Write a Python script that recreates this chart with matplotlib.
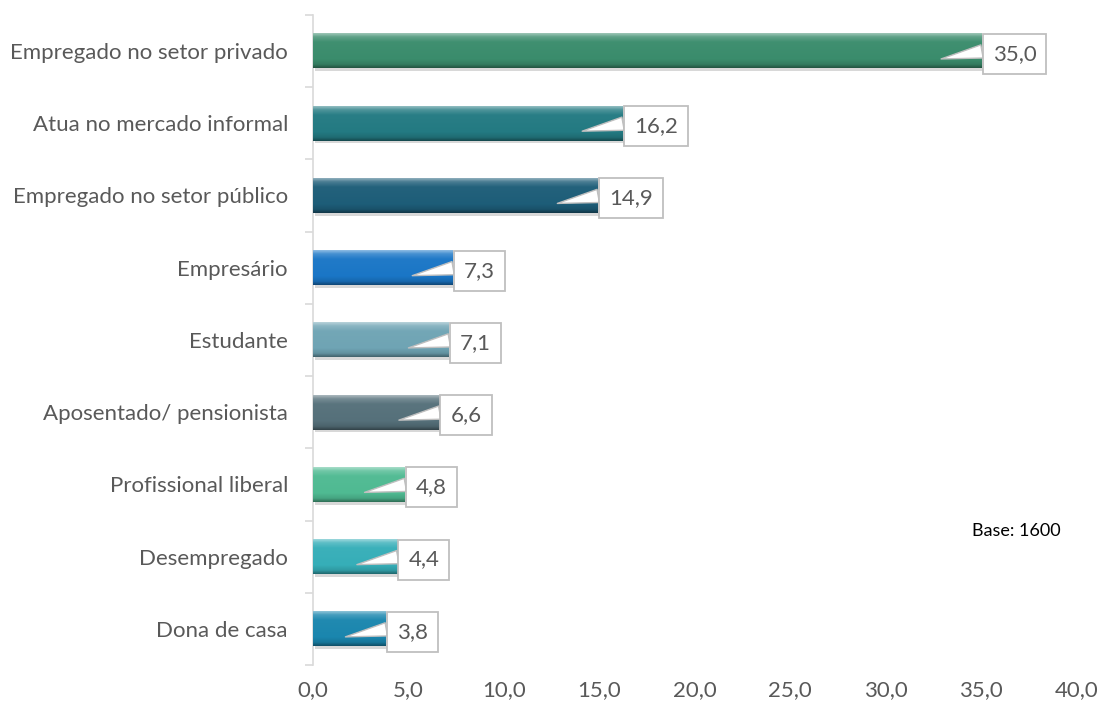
import matplotlib.pyplot as plt
import matplotlib.colors as mcolors
import numpy as np

plt.rcParams['font.family'] = ['Lato', 'DejaVu Sans']

categories = ['Empregado no setor privado', 'Atua no mercado informal', 'Empregado no setor público',
              'Empresário', 'Estudante', 'Aposentado/ pensionista', 'Profissional liberal',
              'Desempregado', 'Dona de casa']
values = [35.0, 16.2, 14.9, 7.3, 7.1, 6.6, 4.8, 4.4, 3.8]
bar_colors = ['#3a8c6c', '#237a82', '#1d5d78', '#1a76c6', '#6fa4b4', '#55707a',
              '#4fba92', '#36aeb8', '#1a86ae']
x_ticks = [0, 5, 10, 15, 20, 25, 30, 35, 40]
base_note = 'Base: 1600'

text_gray = '#595959'


def shade(color, f):
    # f > 0 lighter, f < 0 darker
    c = np.array(mcolors.to_rgb(color))
    if f > 0:
        return c + (1 - c) * f
    return c * (1 + f)


fig = plt.figure(figsize=(11.02, 7.09), dpi=100)
ax = fig.add_axes([0.284, 0.062, 0.693, 0.917])

y = np.arange(len(categories))[::-1]
bars = ax.barh(y, values, height=0.48, color=bar_colors, zorder=2)

# bevel-ish gradient on each bar
for bar, col in zip(bars, bar_colors):
    x0, y0 = bar.get_x(), bar.get_y()
    w, h = bar.get_width(), bar.get_height()
    stops = [shade(col, 0.5), shade(col, 0.2), shade(col, 0.03), shade(col, 0.0), shade(col, -0.12), shade(col, -0.4)]
    pos = [0, 0.1, 0.25, 0.75, 0.9, 1.0]
    t = np.linspace(0, 1, 64)
    grad = np.array([[np.interp(tt, pos, [s[k] for s in stops]) for k in range(3)] for tt in t])
    ax.imshow(grad[:, None, :], extent=(x0, x0 + w, y0, y0 + h), aspect='auto', zorder=3,
              interpolation='bilinear', origin='upper')
    # soft shadow below
    ax.add_patch(plt.Rectangle((x0 + 0.1, y0 - 0.04), w, 0.04, color='#d8d8d8', lw=0, zorder=1))

ax.set_xlim(0, 40)
ax.set_ylim(-0.5, len(categories) - 0.5)

# callout labels
for yi, v in zip(y, values):
    ax.annotate(f'{v:.1f}'.replace('.', ','), xy=(v - 2.1, yi - 0.11), xytext=(v + 0.6, yi - 0.04),
                ha='left', va='center', fontsize=16, color=text_gray, zorder=5,
                bbox=dict(boxstyle='square,pad=0.45', fc='white', ec='#bfbfbf', lw=1.3),
                arrowprops=dict(arrowstyle='wedge,tail_width=0.6,shrink_factor=0.5', fc='white',
                                ec='#bfbfbf', lw=1.0, relpos=(0, 0.72), shrinkA=0, shrinkB=0))

ax.set_yticks(y)
ax.set_yticklabels(categories, fontsize=16, color=text_gray)
ax.set_yticks(np.arange(-0.5, len(categories), 1), minor=True)
ax.tick_params(axis='y', which='major', length=0, pad=18)
ax.tick_params(axis='y', which='minor', length=6, color='#d9d9d9', width=1.2)

ax.set_xticks(x_ticks)
ax.set_xticklabels([f'{t:.1f}'.replace('.', ',') for t in x_ticks], fontsize=16, color=text_gray)
ax.tick_params(axis='x', length=0, pad=11)

for s in ['top', 'right', 'bottom']:
    ax.spines[s].set_visible(False)
ax.spines['left'].set_color('#d9d9d9')
ax.spines['left'].set_linewidth(1.2)

ax.text(34.5, 1.35, base_note, fontsize=13, color='black', ha='left', va='center')

fig.savefig('out.png', dpi=100)
